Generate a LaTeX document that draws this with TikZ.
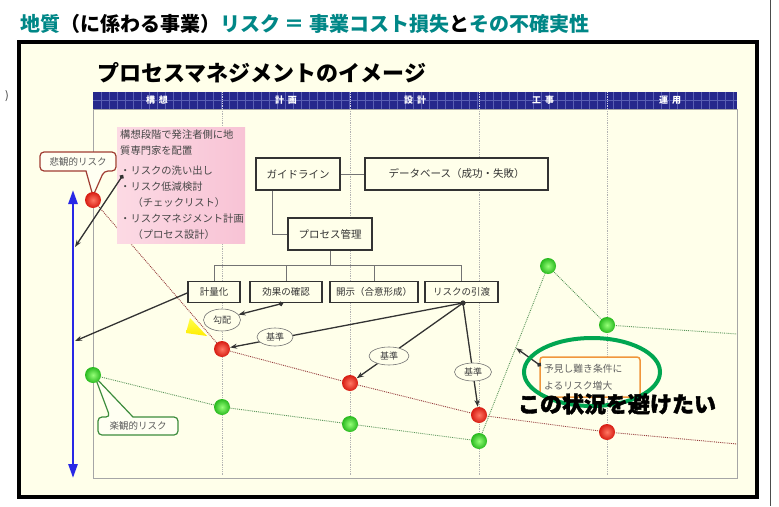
\documentclass[tikz,border=0pt]{standalone}
\usepackage{fontspec}
\setmainfont{Noto Sans CJK JP}
\newfontfamily\jpheavy{Noto Sans CJK JP}[FakeBold=1.8]
\usetikzlibrary{arrows.meta,shapes.geometric}
\definecolor{cream}{RGB}{255,255,234}
\definecolor{ttl}{RGB}{0,135,135}
\definecolor{navy}{RGB}{38,40,140}
\definecolor{bandgrid}{RGB}{90,95,180}
\definecolor{redline}{RGB}{150,60,60}
\definecolor{greenline}{RGB}{90,150,90}
\definecolor{bluearr}{RGB}{40,40,230}
\definecolor{pinkL}{RGB}{252,218,228}
\definecolor{pinkR}{RGB}{248,195,213}
\definecolor{orangeb}{RGB}{240,150,60}
\definecolor{bigell}{RGB}{0,166,81}
\definecolor{hibrown}{RGB}{160,60,50}
\definecolor{rakgreen}{RGB}{60,140,60}
\definecolor{redin}{RGB}{255,120,100}
\definecolor{redout}{RGB}{215,28,18}
\definecolor{grin}{RGB}{150,255,120}
\definecolor{grout}{RGB}{40,185,30}
\begin{document}
\begin{tikzpicture}[x=1pt,y=-1pt,
  fs/.style={font=\fontsize{#1}{#1}\selectfont},
  stagebox/.style={draw=black!80, line width=1.8pt, fill=cream, text=black!80, inner sep=0pt, fs=10.5},
  smallbox/.style={draw=black!80, line width=1.6pt, fill=cream, text=black!80, inner sep=0pt, minimum height=21pt, fs=9.5},
  conn/.style={draw=black!55, line width=0.8pt},
  arr/.style={draw=black!80, line width=1.3pt, -{Stealth[length=7pt,width=5pt]}},
  dotarr/.style={draw=black!80, line width=1.3pt, {Circle[length=4.5pt]}-{Stealth[length=7pt,width=5pt]}},
  lab/.style={ellipse, draw=black!55, line width=0.6pt, fill=cream, text=black!75, inner sep=0pt, fs=9},
  redball/.style={circle, inner sep=0pt, minimum size=16pt, shading=radial, inner color=redin, outer color=redout},
  greenball/.style={circle, inner sep=0pt, minimum size=16pt, shading=radial, inner color=grin, outer color=grout},
  reddot/.style={draw=redline, densely dotted, line width=0.9pt},
  greendot/.style={draw=greenline, densely dotted, line width=0.9pt},
  head/.style={text=white, font=\fontsize{9}{9}\selectfont\bfseries},
]
\useasboundingbox (0,0) rectangle (779,506);
\fill[white] (0,0) rectangle (779,506);
% stray fragment and thin right line
\node[text=black!80, font=\fontsize{11}{11}\selectfont] (frag) at (7,96) {)};
\draw[black!70, line width=0.8pt] (770,0) -- (770,506);

% title
\node[anchor=west, inner sep=0pt, font=\fontsize{20}{20}\selectfont\bfseries] (title) at (20,24)
  {\textcolor{ttl}{地質}（に係わる事業）\textcolor{ttl}{リスク} \textcolor{ttl}{＝} \textcolor{ttl}{事業コスト損失}と\textcolor{ttl}{その不確実性}};

% outer frame
\draw[black, line width=4pt, fill=cream] (19,42) rectangle (757,497);

% subtitle
\node[anchor=west, inner sep=0pt, font=\fontsize{22}{22}\selectfont\bfseries] (sub) at (97,73) {プロセスマネジメントのイメージ};

% header band
\fill[navy] (93,92) rectangle (737,109);
\foreach \x in {101,109,...,733} \draw[bandgrid, line width=0.5pt] (\x,92) -- (\x,109);
\draw[bandgrid, line width=0.5pt] (93,100.5) -- (737,100.5);
\node[head] (h1) at (157,100.5) {構\hspace{4pt}想};
\node[head] (h2) at (286,100.5) {計\hspace{4pt}画};
\node[head] (h3) at (415,100.5) {設\hspace{4pt}計};
\node[head] (h4) at (543,100.5) {工\hspace{4pt}事};
\node[head] (h5) at (670,100.5) {運\hspace{4pt}用};

% chart area
\draw[black!35, line width=0.7pt] (93,109) rectangle (737,478);
\foreach \x in {222,350,479,607} {
  \draw[white!80!navy, densely dotted, line width=0.8pt] (\x,92) -- (\x,109);
  \draw[black!30, densely dotted, line width=0.8pt] (\x,109) -- (\x,475);
}

% blue double arrow
\coordinate (btop) at (73,190);
\coordinate (bbot) at (73,478);
\draw[bluearr, line width=2.6pt, {Triangle[length=14pt,width=9pt]}-{Triangle[length=14pt,width=9pt]}] (btop) -- (bbot);

% ball positions
\coordinate (r0) at (93,200);
\coordinate (r1) at (222,349);
\coordinate (r2) at (350,383);
\coordinate (r3) at (479,415);
\coordinate (r4) at (607,432);
\coordinate (rend) at (737,444);
\coordinate (g0) at (93,375);
\coordinate (g1) at (222,407);
\coordinate (g2) at (350,424);
\coordinate (g3) at (479,441);
\coordinate (g4) at (548,266);
\coordinate (g5) at (607,325);
\coordinate (gend) at (737,334);

\draw[reddot] (r0) -- (r1) -- (r2) -- (r3) -- (r4) -- (rend);
\draw[greendot] (g0) -- (g1) -- (g2) -- (g3) -- (g4) -- (g5) -- (gend);

% yellow triangle
\shade[top color=yellow!70!white, bottom color=yellow!85!orange] (190,318) -- (186,333) -- (207,336) -- cycle;

% callouts
\draw[hibrown, line width=1.2pt, fill=white!40!cream]
  (40,161) [rounded corners=4pt] -- (40,152) -- (116,152) -- (116,171) -- (104,171) [sharp corners] -- (93,196) -- (86,171) [rounded corners=4pt] -- (40,171) -- cycle;
\node[text=black!65, fs=9.5] (hik) at (78,161.5) {悲観的リスク};

\draw[rakgreen, line width=1.2pt, fill=white!40!cream]
  (98,426) [rounded corners=4pt] -- (98,417) -- (110,417) [sharp corners] -- (95,377) -- (133,417) [rounded corners=4pt] -- (178,417) -- (178,435) -- (98,435) -- cycle;
\node[text=black!65, fs=9.5] (rak) at (138,426) {楽観的リスク};

% balls
\node[redball] (R0) at (r0) {};
\node[redball] (R1) at (r1) {};
\node[redball] (R2) at (r2) {};
\node[redball] (R3) at (r3) {};
\node[redball] (R4) at (r4) {};
\node[greenball] (G0) at (g0) {};
\node[greenball] (G1) at (g1) {};
\node[greenball] (G2) at (g2) {};
\node[greenball] (G3) at (g3) {};
\node[greenball] (G4) at (g4) {};
\node[greenball] (G5) at (g5) {};

% pink box
\node[draw=none, left color=pinkL, right color=pinkR, minimum width=128pt, minimum height=116pt, inner sep=0pt] (pk) at (181,185) {};
\node[anchor=north west, inner sep=0pt, text width=124pt, align=left, text=black!72,
      font=\fontsize{10.3}{16}\selectfont] (pktext) at (120,130)
 {構想段階で発注者側に地\\
  質専門家を配置\\[4pt]
  ・リスクの洗い出し\\
  ・リスク低減検討\\
  \hspace{1.2em}（チェックリスト）\\
  ・リスクマネジメント計画\\
  \hspace{1.2em}（プロセス設計）};

% process boxes
\node[stagebox, minimum width=84pt, minimum height=32pt] (gl) at (298,174) {ガイドライン};
\node[stagebox, minimum width=183pt, minimum height=32pt] (db) at (456.5,174) {データベース（成功・失敗）};
\node[stagebox, minimum width=84pt, minimum height=32pt] (pm) at (330,234) {プロセス管理};
\node[smallbox, minimum width=52pt] (k1) at (214,292) {計量化};
\node[smallbox, minimum width=72pt] (k2) at (286,292) {効果の確認};
\node[smallbox, minimum width=88pt] (k3) at (374,292) {開示（合意形成）};
\node[smallbox, minimum width=73pt] (k4) at (461.5,292) {リスクの引渡};

\draw[conn] (gl.east) -- (db.west);
\draw[conn] ([xshift=-26pt]gl.south) |- (pm.west);
\coordinate (bus) at (330,265);
\draw[conn] (pm.south) -- (bus);
\draw[conn] (k1.north) -- (k1.north |- bus) -- (k4.north |- bus) -- (k4.north);
\draw[conn] (k2.north) -- (k2.north |- bus);
\draw[conn] (k3.north) -- (k3.north |- bus);

% black arrows
\coordinate (p1) at (123,175);
\coordinate (b1) at (75,247);
\coordinate (b2) at (75,341);
\draw[dotarr] (p1) -- (b1);
\draw[arr] ([yshift=-1pt]k1.west) -- (b2);

\node[lab, minimum width=37pt, minimum height=22pt] (kobai) at (222,320) {勾配};
\draw[dotarr] ([xshift=-3pt]k2.south) -- (kobai.18);

\coordinate (d4) at (463,303);
\draw[arr] (d4) -- (R1);
\draw[arr] (d4) -- (R2);
\draw[arr] (d4) -- (R3);
\fill[black!80] (d4) circle (2.6pt);
\node[lab, minimum width=36pt, minimum height=18pt] (kj1) at (275,337) {基準};
\node[lab, minimum width=40pt, minimum height=18pt] (kj2) at (389,356) {基準};
\node[lab, minimum width=37pt, minimum height=18pt] (kj3) at (473,372) {基準};

% unforeseen conditions box
\node[draw=orangeb, line width=1.5pt, rounded corners=3pt, fill=cream, minimum width=100pt, minimum height=40pt,
      inner sep=0pt, text width=92pt, align=left, text=black!62, font=\fontsize{9.8}{17}\selectfont] (ob) at (590,377)
  {予見し難き条件に\\よるリスク増大};
\coordinate (od) at (541,366);
\coordinate (gp) at (516,348);
\draw[dotarr] (od) -- (gp);

\node[ellipse, draw=bigell, line width=4pt, minimum width=136pt, minimum height=68pt, inner sep=0pt] (sit) at (592,372) {};
\node[inner sep=0pt, font=\jpheavy\fontsize{22}{22}\selectfont\bfseries] (avoid) at (617,404) {この状況を避けたい};
\end{tikzpicture}
\end{document}
